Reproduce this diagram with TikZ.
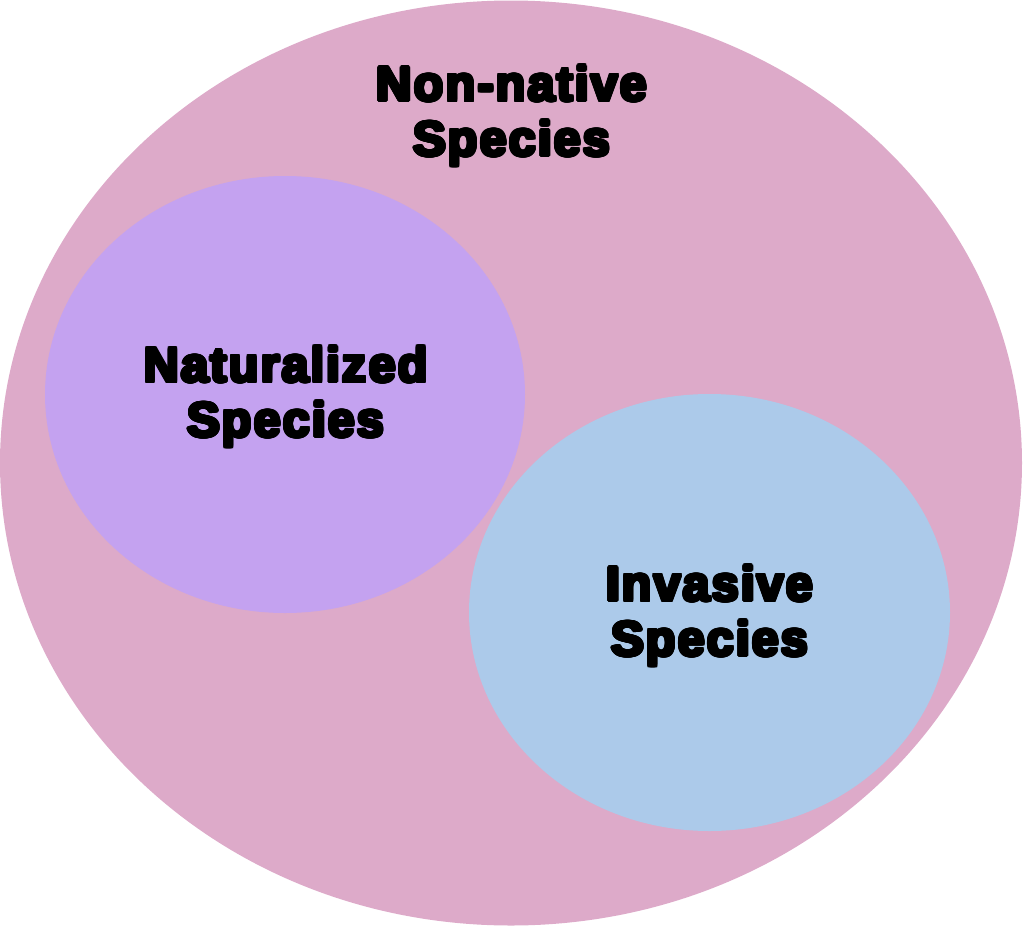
\documentclass[tikz,border=0pt]{standalone}
\usepackage{fontspec}
\setmainfont{Liberation Sans}[LetterSpace=4.0]
\usetikzlibrary{shapes.geometric}
\definecolor{pinkfill}{RGB}{221,170,201}
\definecolor{purplefill}{RGB}{196,162,240}
\definecolor{bluefill}{RGB}{172,202,234}
\tikzset{
  blob/.style={ellipse, inner sep=0pt, draw=none},
  lbltxt/.style={font=\fontsize{49}{55}\selectfont\bfseries, inner sep=0pt, text=black},
}
\newsavebox\olbox
\newcommand\outl[1]{%
  \sbox\olbox{\begin{tabular}{@{}c@{}}#1\end{tabular}}%
  \foreach \a in {0,20,...,340}{\pgfmathsetmacro\dx{1.7*cos(\a)}\pgfmathsetmacro\dy{1.7*sin(\a)}%
    \makebox[0pt][l]{\hspace*{\dx pt}\raisebox{\dy pt}{\color{white}\usebox\olbox}}}%
  \foreach \a in {0,90,180,270}{\pgfmathsetmacro\dx{0.4*cos(\a)}\pgfmathsetmacro\dy{0.4*sin(\a)}%
    \makebox[0pt][l]{\hspace*{\dx pt}\raisebox{\dy pt}{\color{black}\usebox\olbox}}}%
  \usebox\olbox}
\begin{document}
\begin{tikzpicture}[x=1pt,y=-1pt]
\useasboundingbox (0,0) rectangle (1023,926);
\node[blob, fill=pinkfill, minimum width=1022pt, minimum height=925pt] (outer) at (511,463) {};
\node[blob, fill=purplefill, minimum width=480pt, minimum height=437pt] (nat) at (285,394.5) {};
\node[blob, fill=bluefill, minimum width=481pt, minimum height=437pt] (inv) at (709.5,612.5) {};
\node[lbltxt] (tout) at (512,117.5) {\outl{Non-native\\Species}};
\node[lbltxt] (tnat) at (286,398.5) {\outl{Naturalized\\Species}};
\node[lbltxt] (tinv) at (710,617.5) {\outl{Invasive\\Species}};
\end{tikzpicture}
\end{document}
